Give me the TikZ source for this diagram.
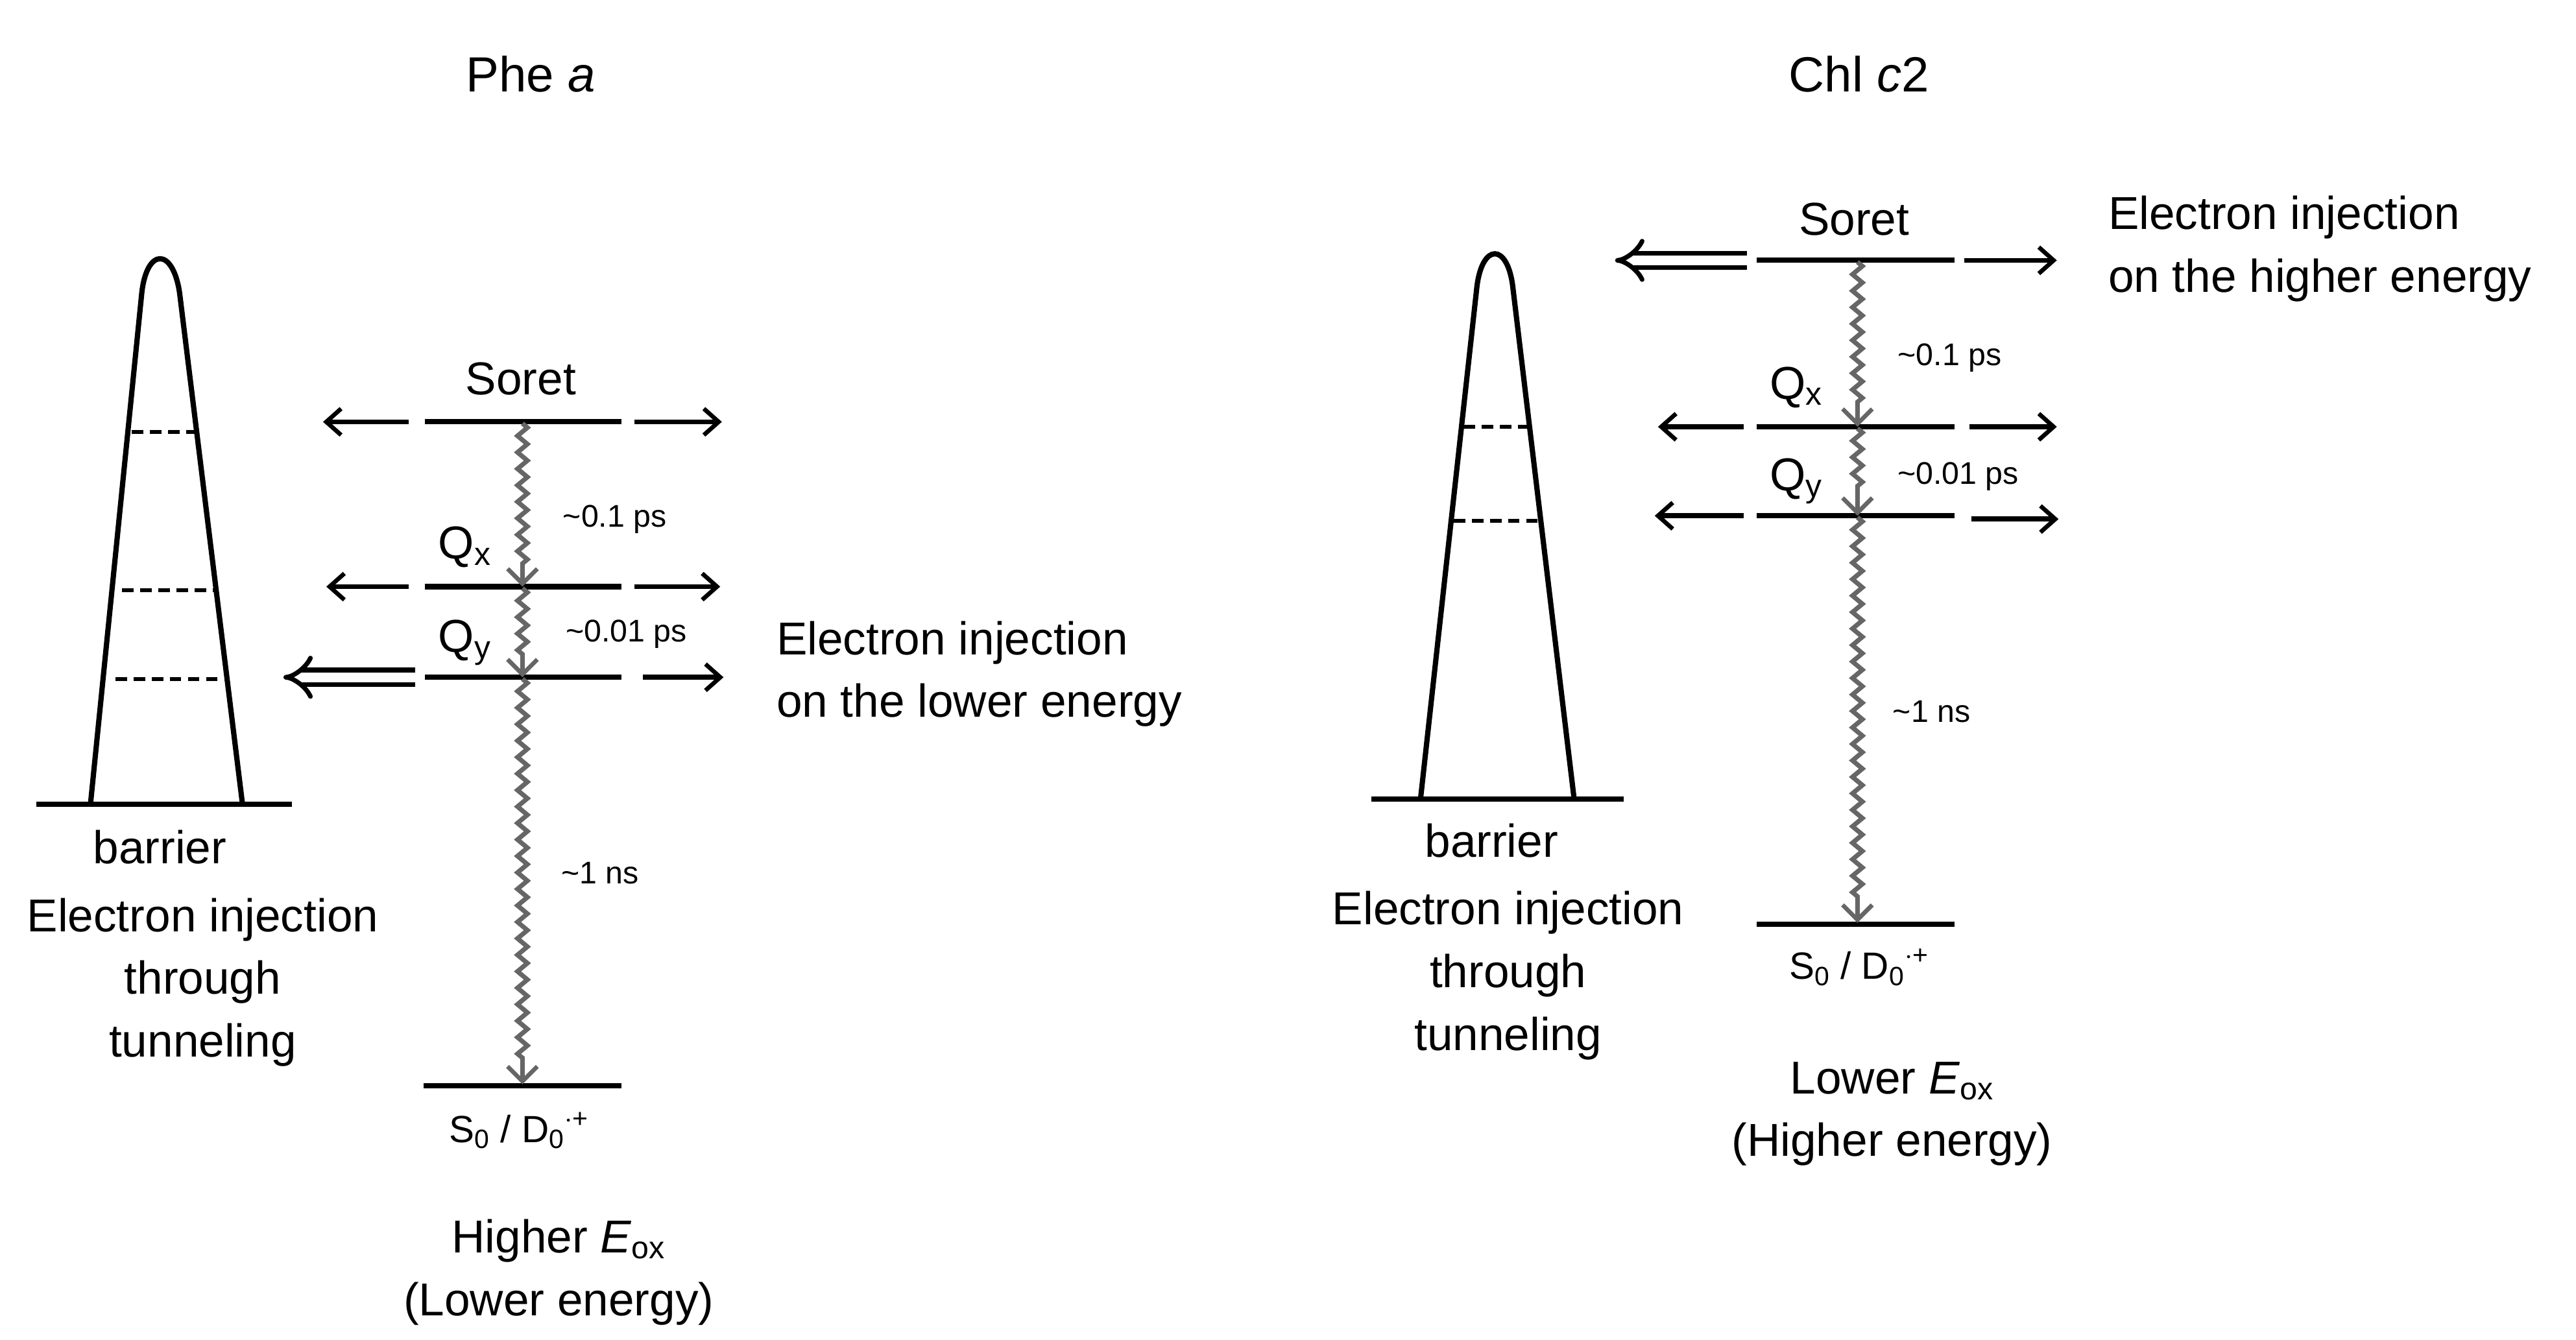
\documentclass[tikz,border=0pt]{standalone}
\usepackage{fontspec}
\setmainfont{Liberation Sans}
\usetikzlibrary{arrows.meta,decorations.pathmorphing}
\begin{document}
\begin{tikzpicture}[x=1pt,y=-1pt,
  lbl/.style={font=\fontsize{28}{38}\selectfont,inner sep=0pt},
  sml/.style={font=\fontsize{19}{22}\selectfont,inner sep=0pt},
  slab/.style={font=\fontsize{23}{26}\selectfont,inner sep=0pt},
  lev/.style={line width=3.2pt},
  thin/.style={line width=3.2pt},
  sarr/.style={line width=3pt,-{Straight Barb[length=9pt,width=16pt,line width=2.6pt]}},
  darr/.style={double,double distance=6pt,line width=2.8pt,-{Implies[length=10pt]}},
  wav/.style={draw=black!60,line width=2.8pt,decorate,decoration={zigzag,amplitude=3pt,segment length=10pt,post length=14pt},-{Straight Barb[length=9pt,width=18pt,line width=2.6pt]}},
  dsh/.style={line width=2.4pt,dash pattern=on 7pt off 4pt}]
\useasboundingbox (0,0) rectangle (1563,813);
% titles
\node[lbl,font=\fontsize{30}{34}\selectfont] (t1) at (322,45) {Phe \textit{a}};
\node[lbl,font=\fontsize{30}{34}\selectfont] (t2) at (1128,45) {Chl \textit{c}2};
% ---------- left barrier
\draw[thin] (55,487) -- (86,178) .. controls (89,150) and (105,150) .. (109,178) -- (147,487);
\draw[thin] (22,488) -- (177,488);
\draw[dsh] (80,262) -- (120,262);
\draw[dsh] (74,358) -- (131,358);
\draw[dsh] (70,412) -- (137,412);
\node[lbl] (b1) at (97,514) {barrier};
\node[lbl,align=center] (e1) at (123,596) {Electron injection\\through\\tunneling};
% left levels
\coordinate (ls1) at (258,256); \coordinate (ls2) at (377,256);
\coordinate (lx1) at (258,356); \coordinate (lx2) at (377,356);
\coordinate (ly1) at (258,411); \coordinate (ly2) at (377,411);
\coordinate (l01) at (257,659); \coordinate (l02) at (377,659);
\draw[lev] (ls1)--(ls2); \draw[lev] (lx1)--(lx2); \draw[lev] (ly1)--(ly2); \draw[lev] (l01)--(l02);
\node[lbl] (lsor) at (316,230) {Soret};
\node[lbl] (lqx) at (282,332) {Q\textsubscript{x}};
\node[lbl] (lqy) at (282,390) {Q\textsubscript{y}};
\node[slab] (ls0) at (315,686) {S\textsubscript{0} / D\textsubscript{0}\textsuperscript{$\cdot$+}};
\node[lbl,align=center] (lex) at (339,772) {Higher \textit{E}\textsubscript{\fontsize{19}{20}\selectfont ox}\\(Lower energy)};
\coordinate (la1) at (248,256); \coordinate (la2) at (196,256);
\coordinate (la3) at (385,256); \coordinate (la4) at (438,256);
\coordinate (lb1) at (248,356); \coordinate (lb2) at (198,356);
\coordinate (lb3) at (385,356); \coordinate (lb4) at (437,356);
\coordinate (lc1) at (252,411); \coordinate (lc2) at (172,411);
\coordinate (lc3) at (390,411); \coordinate (lc4) at (439,411);
\draw[sarr] (la1)--(la2); \draw[sarr] (la3)--(la4);
\draw[sarr] (lb1)--(lb2); \draw[sarr] (lb3)--(lb4);
\draw[darr] (lc1)--(lc2); \draw[sarr] (lc3)--(lc4);
\coordinate (lw1) at (317,257); \coordinate (lw2) at (317,356);
\coordinate (lw3) at (317,357); \coordinate (lw4) at (317,411);
\coordinate (lw5) at (317,412); \coordinate (lw6) at (317,658);
\draw[wav] (lw1)--(lw2); \draw[wav] (lw3)--(lw4); \draw[wav] (lw5)--(lw6);
\node[sml] (lt1) at (373,315) {\textasciitilde0.1 ps};
\node[sml] (lt2) at (380,385) {\textasciitilde0.01 ps};
\node[sml] (lt3) at (364,530) {\textasciitilde1 ns};
\node[lbl,align=left,anchor=west] (lin) at (471,409) {Electron injection\\on the lower energy};
% ---------- right barrier
\draw[thin] (862,484) -- (896,175) .. controls (899,147) and (915,147) .. (918,175) -- (955,484);
\draw[thin] (832,485) -- (985,485);
\draw[dsh] (888,259) -- (928,259);
\draw[dsh] (882,316) -- (935,316);
\node[lbl] (b2) at (905,510) {barrier};
\node[lbl,align=center] (e2) at (915,592) {Electron injection\\through\\tunneling};
% right levels
\coordinate (rs1) at (1066,158); \coordinate (rs2) at (1186,158);
\coordinate (rx1) at (1066,259); \coordinate (rx2) at (1186,259);
\coordinate (ry1) at (1066,313); \coordinate (ry2) at (1186,313);
\coordinate (r01) at (1066,561); \coordinate (r02) at (1186,561);
\draw[lev] (rs1)--(rs2); \draw[lev] (rx1)--(rx2); \draw[lev] (ry1)--(ry2); \draw[lev] (r01)--(r02);
\node[lbl] (rsor) at (1125,133) {Soret};
\node[lbl] (rqx) at (1090,235) {Q\textsubscript{x}};
\node[lbl] (rqy) at (1090,292) {Q\textsubscript{y}};
\node[slab] (rs0) at (1128,587) {S\textsubscript{0} / D\textsubscript{0}\textsuperscript{$\cdot$+}};
\node[lbl,align=center] (rex) at (1148,676) {Lower \textit{E}\textsubscript{\fontsize{19}{20}\selectfont ox}\\(Higher energy)};
\coordinate (ra1) at (1060,158); \coordinate (ra2) at (980,158);
\coordinate (ra3) at (1192,158); \coordinate (ra4) at (1248,158);
\coordinate (rb1) at (1058,259); \coordinate (rb2) at (1006,259);
\coordinate (rb3) at (1195,259); \coordinate (rb4) at (1248,259);
\coordinate (rc1) at (1058,313); \coordinate (rc2) at (1004,313);
\coordinate (rc3) at (1196,315); \coordinate (rc4) at (1249,315);
\draw[darr] (ra1)--(ra2); \draw[sarr] (ra3)--(ra4);
\draw[sarr] (rb1)--(rb2); \draw[sarr] (rb3)--(rb4);
\draw[sarr] (rc1)--(rc2); \draw[sarr] (rc3)--(rc4);
\coordinate (rw1) at (1127,159); \coordinate (rw2) at (1127,259);
\coordinate (rw3) at (1127,260); \coordinate (rw4) at (1127,313);
\coordinate (rw5) at (1127,314); \coordinate (rw6) at (1127,560);
\draw[wav] (rw1)--(rw2); \draw[wav] (rw3)--(rw4); \draw[wav] (rw5)--(rw6);
\node[sml] (rt1) at (1183,217) {\textasciitilde0.1 ps};
\node[sml] (rt2) at (1188,289) {\textasciitilde0.01 ps};
\node[sml] (rt3) at (1172,432) {\textasciitilde1 ns};
\node[lbl,align=left,anchor=west] (rin) at (1279,151) {Electron injection\\on the higher energy};
\end{tikzpicture}
\end{document}
